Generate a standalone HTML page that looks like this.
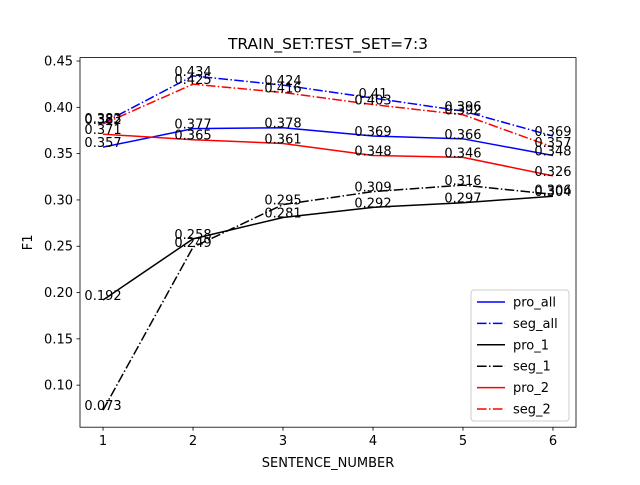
<!DOCTYPE html>
<html><head><meta charset="utf-8"><style>
body{margin:0;background:#fff;}
svg{font-family:"DejaVu Sans","Liberation Sans",sans-serif;}
</style></head><body>
<svg id="chart" width="640" height="480">
<rect width="640" height="480" fill="#fff"/>
<g id="plot"></g>
</svg>
<script>
const categories=[1,2,3,4,5,6];
const proAll=[0.357,0.377,0.378,0.369,0.366,0.348];
const segAll=[0.383,0.434,0.424,0.41,0.396,0.369];
const pro1=[0.192,0.258,0.281,0.292,0.297,0.304];
const seg1=[0.073,0.249,0.295,0.309,0.316,0.306];
const pro2=[0.371,0.365,0.361,0.348,0.346,0.326];
const seg2=[0.382,0.425,0.416,0.403,0.392,0.357];
const yTicks=[0.10,0.15,0.20,0.25,0.30,0.35,0.40,0.45];
const seriesNames=["pro_all","seg_all","pro_1","seg_1","pro_2","seg_2"];
const seriesData=[proAll,segAll,pro1,seg1,pro2,seg2];
const colors=["#0000ff","#0000ff","#000000","#000000","#ff0000","#ff0000"];
const dashes=["","9.6,2.4,1.5,2.4","","9.6,2.4,1.5,2.4","","9.6,2.4,1.5,2.4"];
const L=80,R=576,T=57.6,B=427.2;
const xMin=0.744,xMax=6.256,yMin=0.0546,yMax=0.4537;
const sx=v=>L+(v-xMin)/(xMax-xMin)*(R-L);
const sy=v=>B-(v-yMin)/(yMax-yMin)*(B-T);
const ns="http://www.w3.org/2000/svg";
const g=document.getElementById('plot');
function mk(t,a,p){const e=document.createElementNS(ns,t);for(const k in a)e.setAttribute(k,a[k]);(p||g).appendChild(e);return e;}
// series
seriesData.forEach((d,i)=>{
 const pl=mk('polyline',{points:d.map((v,j)=>sx(categories[j])+','+sy(v)).join(' '),fill:'none',stroke:colors[i],'stroke-width':1.5,'stroke-dasharray':dashes[i]});
 
 
});
seriesData.forEach((d,i)=>{
 d.forEach((v,j)=>{
  const t=mk('text',{x:sx(categories[j]),y:sy(v),'text-anchor':'middle','font-size':13,fill:'#000'});
  t.textContent=String(v);
  
  
 });
});
// axes frame
const fr=mk('rect',{x:L,y:T,width:R-L,height:B-T,fill:'none',stroke:'#000','stroke-width':0.8});


categories.forEach(c=>{
 mk('line',{x1:sx(c),x2:sx(c),y1:B,y2:B+3.5,stroke:'#000','stroke-width':0.8});
 const t=mk('text',{x:sx(c),y:B+18,'text-anchor':'middle','font-size':13});
 t.textContent=c;
 
 
});
yTicks.forEach(v=>{
 mk('line',{x1:L-3.5,x2:L,y1:sy(v),y2:sy(v),stroke:'#000','stroke-width':0.8});
 const t=mk('text',{x:L-7,y:sy(v)+4.5,'text-anchor':'end','font-size':13});
 t.textContent=v.toFixed(2);
 
 
});
let t=mk('text',{x:(L+R)/2,y:467,'text-anchor':'middle','font-size':13});t.textContent='SENTENCE_NUMBER';


t=mk('text',{x:32,y:(T+B)/2,'text-anchor':'middle','font-size':13,transform:'rotate(-90 32 '+((T+B)/2)+')'});t.textContent='F1';


t=mk('text',{x:(L+R)/2,y:49,'text-anchor':'middle','font-size':15.5});t.textContent='TRAIN_SET:TEST_SET=7:3';


// legend
const lg=mk('g',{});


mk('rect',{x:471,y:290,width:98,height:131,rx:3,fill:'#fff','fill-opacity':0.8,stroke:'#ccc','stroke-width':1},lg);
seriesNames.forEach((n,i)=>{
 const y=302+i*21.4;
 const e=mk('g',{},lg);
 
 
 mk('line',{x1:477,x2:505,y1:y,y2:y,stroke:colors[i],'stroke-width':1.5,'stroke-dasharray':dashes[i]},e);
 const tt=mk('text',{x:513,y:y+4.5,'font-size':13},e);tt.textContent=n;
});
</script>
</body></html>
